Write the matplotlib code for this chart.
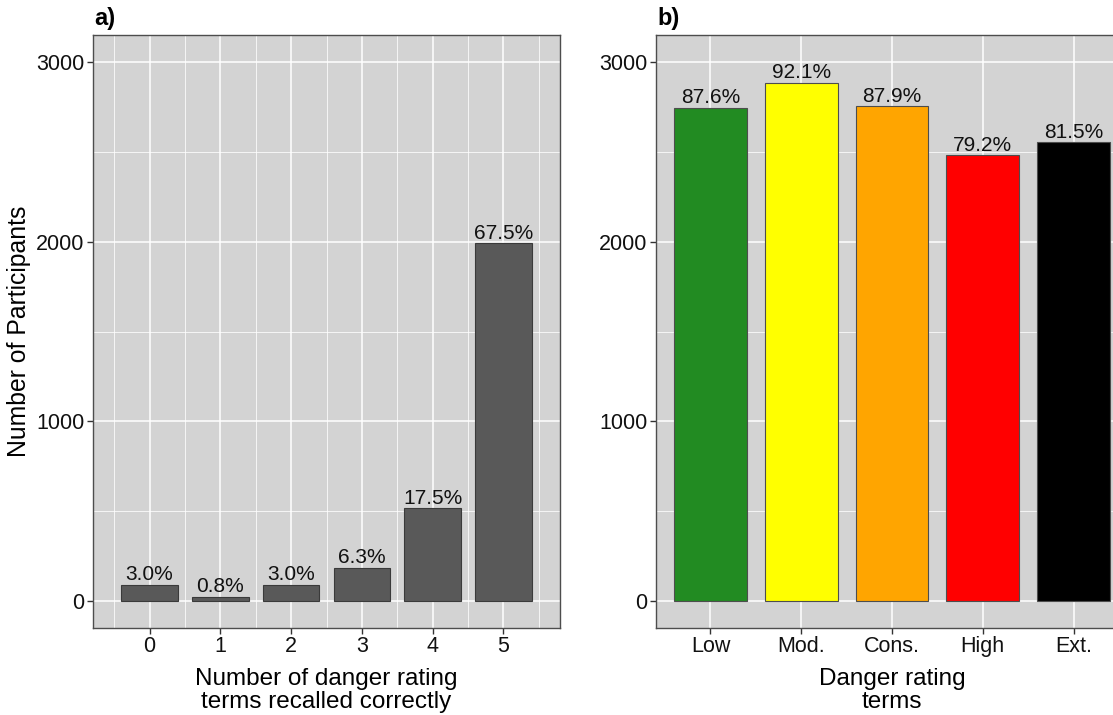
import matplotlib
matplotlib.use("Agg")
import matplotlib.pyplot as plt
from matplotlib.ticker import MultipleLocator

plt.rcParams['font.family'] = ['Liberation Sans', 'DejaVu Sans']

# Panel a data
recall_counts = [0, 1, 2, 3, 4, 5]
recall_n = [89, 24, 89, 186, 516, 1990]
recall_pct = [3.0, 0.8, 3.0, 6.3, 17.5, 67.5]

# Panel b data
terms = ["Low", "Mod.", "Cons.", "High", "Ext."]
terms_n = [2744, 2885, 2753, 2481, 2553]
terms_pct = [87.6, 92.1, 87.9, 79.2, 81.5]
terms_colors = ["#228B22", "#FFFF00", "#FFA500", "#FF0000", "#000000"]

W, H = 1113, 715
fig = plt.figure(figsize=(W / 100, H / 100), dpi=100)
fig.patch.set_facecolor("white")

bottom_px, top_px = 628, 35
axA = fig.add_axes([93 / W, (H - bottom_px) / H, (560 - 93) / W, (bottom_px - top_px) / H])
axB = fig.add_axes([656 / W, (H - bottom_px) / H, (1128 - 656) / W, (bottom_px - top_px) / H])

def style(ax):
    ax.set_facecolor("#D3D3D3")
    ax.set_ylim(-150, 3150)
    ax.set_yticks([0, 1000, 2000, 3000])
    ax.yaxis.set_minor_locator(MultipleLocator(500))
    ax.grid(which="major", color="white", linewidth=1.1, zorder=0)
    ax.grid(which="minor", color="white", linewidth=0.55, zorder=0)
    ax.set_axisbelow(True)
    for s in ax.spines.values():
        s.set_color("#4d4d4d")
        s.set_linewidth(1.0)
    ax.tick_params(axis="both", which="major", labelsize=15.5, length=4, width=1,
                   color="#333333", labelcolor="#111111", pad=2)
    ax.tick_params(axis="both", which="minor", length=0)

# Panel a
style(axA)
axA.set_xlim(-0.8, 5.8)
axA.set_xticks(recall_counts)
axA.set_xticks([x + 0.5 for x in [-1] + recall_counts], minor=True)
axA.bar(recall_counts, recall_n, width=0.8, color="#595959", edgecolor="#3a3a3a",
        linewidth=0.8, zorder=3)
for x, n, p in zip(recall_counts, recall_n, recall_pct):
    axA.annotate(f"{p:.1f}%", (x, n), xytext=(0, 0.5), textcoords="offset points",
                 ha="center", va="bottom", fontsize=15, color="#111111", zorder=4)
axA.set_xlabel("Number of danger rating\nterms recalled correctly", fontsize=17.5,
               labelpad=8, linespacing=1.05)
axA.set_ylabel("Number of Participants", fontsize=17.8, labelpad=4)
fig.text(94 / W, 1 - 18 / H, "a)", fontsize=17, fontweight="bold", va="center", ha="left")

# Panel b
style(axB)
xb = list(range(len(terms)))
axB.set_xlim(-0.6, len(terms) - 0.4)
axB.set_xticks(xb)
axB.set_xticklabels(terms)
axB.bar(xb, terms_n, width=0.8, color=terms_colors, edgecolor="#4d4d4d",
        linewidth=0.8, zorder=3)
for x, n, p in zip(xb, terms_n, terms_pct):
    axB.annotate(f"{p:.1f}%", (x, n), xytext=(0, 0.5), textcoords="offset points",
                 ha="center", va="bottom", fontsize=15, color="#111111", zorder=4)
axB.set_xlabel("Danger rating\nterms", fontsize=17.5, labelpad=8, linespacing=1.05)
fig.text(657 / W, 1 - 18 / H, "b)", fontsize=17, fontweight="bold", va="center", ha="left")

fig.savefig("out.png", dpi=100, facecolor="white")
